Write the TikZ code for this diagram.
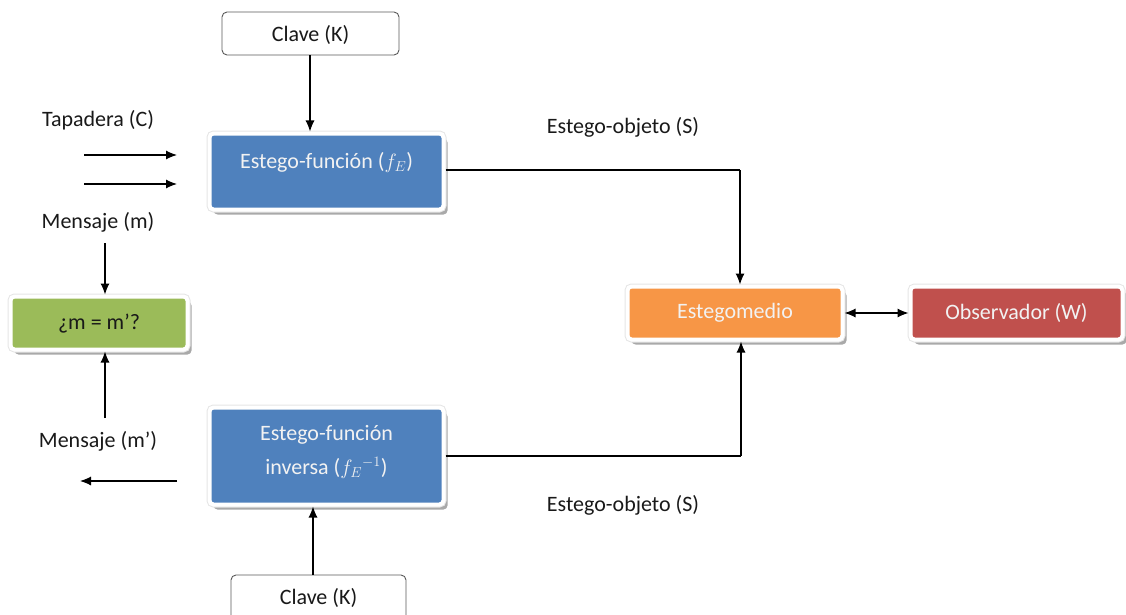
\documentclass[tikz,border=0pt]{standalone}
\usepackage{fontspec}
\setmainfont{Carlito}
\usetikzlibrary{arrows.meta,shadows}
\definecolor{boxblue}{HTML}{4F81BD}
\definecolor{boxgreen}{HTML}{9BBB59}
\definecolor{boxorange}{HTML}{F79646}
\definecolor{boxred}{HTML}{C0504D}
\tikzset{
  panel/.style={rectangle, rounded corners=4pt, fill=#1, draw=white, line width=4pt,
    drop shadow={shadow xshift=4pt, shadow yshift=-5pt, fill=black!45, opacity=.75},
    preaction={draw=black!10, line width=6pt}, inner sep=0pt},
  keybox/.style={rectangle, rounded corners=5pt, fill=white, draw=black!65, line width=0.9pt, inner sep=0pt},
  lbl/.style={font=\fontsize{22}{26}\selectfont, text=black!90, inner sep=0pt},
  wlbl/.style={font=\fontsize{22}{26}\selectfont, text=white!95!black, inner sep=0pt, align=center},
  arr/.style={-{Latex[length=11pt,width=9pt]}, line width=1.1pt},
  darr/.style={{Latex[length=11pt,width=9pt]}-{Latex[length=11pt,width=9pt]}, line width=1.1pt},
  wire/.style={line width=1.1pt}
}
\begin{document}
\begin{tikzpicture}[x=1pt,y=-1pt]
\useasboundingbox (0,0) rectangle (1126,615);
\clip (0,0) rectangle (1126,615);

% boxes
\node[keybox, minimum width=177pt, minimum height=43pt] (k1) at (310.5,33.5) {};
\node[lbl] at (310.5,35) {Clave (K)};

\node[panel=boxblue, minimum width=234pt, minimum height=76pt] (f) at (326.5,171.5) {};
\node[wlbl] at (326.5,162) {Estego-función ($f_E$)};

\node[panel=boxgreen, minimum width=177pt, minimum height=53pt] (cmp) at (99,323) {};
\node[lbl] at (99,324) {¿m = m’?};

\node[panel=boxorange, minimum width=215pt, minimum height=53pt] (med) at (735,313) {};
\node[wlbl] at (735,313) {Estegomedio};

\node[panel=boxred, minimum width=212pt, minimum height=53pt] (obs) at (1016.5,313) {};
\node[wlbl] at (1016.5,313) {Observador (W)};

\node[panel=boxblue, minimum width=234pt, minimum height=97pt] (finv) at (326.5,456) {};
\node[wlbl] at (326.5,435) {Estego-función};
\node[wlbl] at (326.5,468) {inversa ($f_E{}^{-1}$)};

\node[keybox, minimum width=175pt, minimum height=60pt] (k2) at (318.5,605) {};
\node[lbl] at (318.5,598) {Clave (K)};

% free labels
\node[lbl] (cov) at (98,120) {Tapadera (C)};
\node[lbl] (msg) at (98,222) {Mensaje (m)};
\node[lbl] (msg2) at (98,441) {Mensaje (m’)};
\node[lbl] (so1) at (623,127) {Estego-objeto (S)};
\node[lbl] (so2) at (623,505) {Estego-objeto (S)};

% free ends of connectors and guide columns
\coordinate (in1a) at (84,155);  \coordinate (in1b) at (177,155);
\coordinate (in2a) at (84,184);  \coordinate (in2b) at (177,184);
\coordinate (m1) at (105,243);
\coordinate (m2) at (105,418);
\coordinate (outa) at (177,481); \coordinate (outb) at (80,481);
\coordinate (j1) at (740,170);
\coordinate (j2) at (741,456);
\coordinate (c1) at (310,0);
\coordinate (c2) at (313,0);

% connectors
\draw[arr] (k1.south -| c1) -- (f.north -| c1);
\draw[arr] (in1a) -- (in1b);
\draw[arr] (in2a) -- (in2b);
\draw[arr] (m1) -- (m1 |- cmp.north);
\draw[arr] (m2) -- (m2 |- cmp.south);
\draw[arr] (outa) -- (outb);
\draw[wire] (f.east |- j1) -- (j1);
\draw[arr] (j1) -- (j1 |- med.north);
\draw[wire] (finv.east |- j2) -- (j2);
\draw[arr] (j2) -- (j2 |- med.south);
\draw[darr] (med.east) -- (obs.west);
\draw[arr] (k2.north -| c2) -- (finv.south -| c2);
\end{tikzpicture}
\end{document}
